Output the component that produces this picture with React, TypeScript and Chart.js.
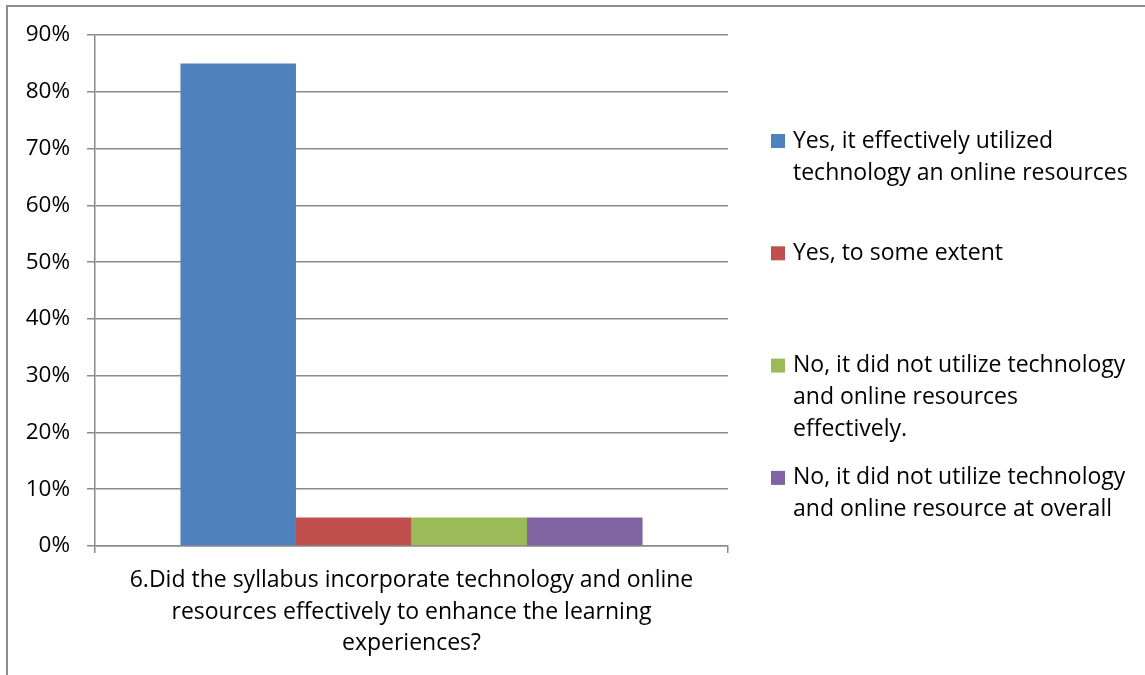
import React, { useEffect, useRef } from "react";
import { Chart, registerables } from "chart.js";

Chart.register(...registerables);

const categories: string[][] = [[
  "6.Did the syllabus incorporate technology and online",
  "resources effectively to enhance the learning",
  "experiences?",
]];

const seriesNames: string[] = [
  "Yes, it effectively utilized technology an online resources",
  "Yes, to some extent",
  "No, it did not utilize technology and online resources effectively.",
  "No, it did not utilize technology and online resource at overall",
];

const legendLines: string[][] = [
  ["Yes, it effectively utilized", "technology an online resources"],
  ["Yes, to some extent"],
  ["No, it did not utilize technology", "and online resources", "effectively."],
  ["No, it did not utilize technology", "and online resource at overall"],
];

const series1: number[] = [85];
const series2: number[] = [5];
const series3: number[] = [5];
const series4: number[] = [5];

const yMax = 90;
const yStep = 10;

const colors = ["#4F81BD", "#C0504D", "#9BBB59", "#8064A2"];
const FONT = "'Open Sans', sans-serif";
const GRID = "#8a8a8a";

const legendPlugin = {
  id: "customLegend",
  afterDraw(chart: any) {
    const ctx = chart.ctx;
    ctx.save();
    ctx.font = `23px ${FONT}`;
    ctx.textBaseline = "middle";
    ctx.textAlign = "left";
    const startY = 141;
    const itemGap = 112.3;
    const lineH = 32;
    legendLines.forEach((lines, i) => {
      const y0 = startY + i * itemGap;
      ctx.fillStyle = chart.data.datasets[i].backgroundColor;
      ctx.fillRect(771, y0 - 7, 14, 14);
      ctx.fillStyle = "#000";
      lines.forEach((t, j) => ctx.fillText(t, 793, y0 + j * lineH));
    });
    ctx.restore();
  },
};

const framePlugin = {
  id: "frame",
  beforeDraw(chart: any) {
    const ctx = chart.ctx;
    ctx.save();
    ctx.fillStyle = "#fff";
    ctx.fillRect(0, 0, chart.width, chart.height);
    ctx.strokeStyle = "#8c8c8c";
    ctx.lineWidth = 2;
    ctx.beginPath();
    ctx.moveTo(7, chart.height);
    ctx.lineTo(7, 6);
    ctx.lineTo(chart.width, 6);
    ctx.stroke();
    ctx.restore();
  },
};

export default function App() {
  const ref = useRef<HTMLCanvasElement>(null);
  useEffect(() => {
    document.body.style.margin = "0";
    const chart = new Chart(ref.current!, {
      type: "bar",
      data: {
        labels: categories as any,
        datasets: [series1, series2, series3, series4].map((d, i) => ({
          label: seriesNames[i],
          data: d,
          backgroundColor: colors[i],
          borderWidth: 0,
          barPercentage: 1,
          categoryPercentage: 0.73,
        })),
      },
      options: {
        animation: false,
        responsive: false,
        layout: { padding: { left: 0, right: 417, top: 35, bottom: 0 } },
        plugins: { legend: { display: false }, tooltip: { enabled: false } },
        scales: {
          x: {
            grid: { drawOnChartArea: false, drawTicks: true, tickLength: 7, color: GRID, lineWidth: 1.5 },
            border: { color: GRID, width: 1.5 },
            ticks: {
              color: "#000",
              font: { family: FONT, size: 23, lineHeight: 1.37 },
              padding: 12,
              maxRotation: 0,
              autoSkip: false,
            },
            afterFit: (s: any) => { s.height = 129; },
          },
          y: {
            min: 0,
            max: yMax,
            grid: { color: GRID, lineWidth: 1.5, tickLength: 8 },
            border: { color: GRID, width: 1.5 },
            ticks: {
              stepSize: yStep,
              color: "#000",
              font: { family: FONT, size: 22.5 },
              padding: 17,
              callback: (v: any) => v + "%",
            },
            afterFit: (s: any) => { s.width = 95; },
          },
        },
      },
      plugins: [framePlugin, legendPlugin],
    });
    return () => chart.destroy();
  }, []);
  return (
    <div style={{ width: 1145, height: 675 }}>
      <canvas ref={ref} width={1145} height={675} />
    </div>
  );
}
